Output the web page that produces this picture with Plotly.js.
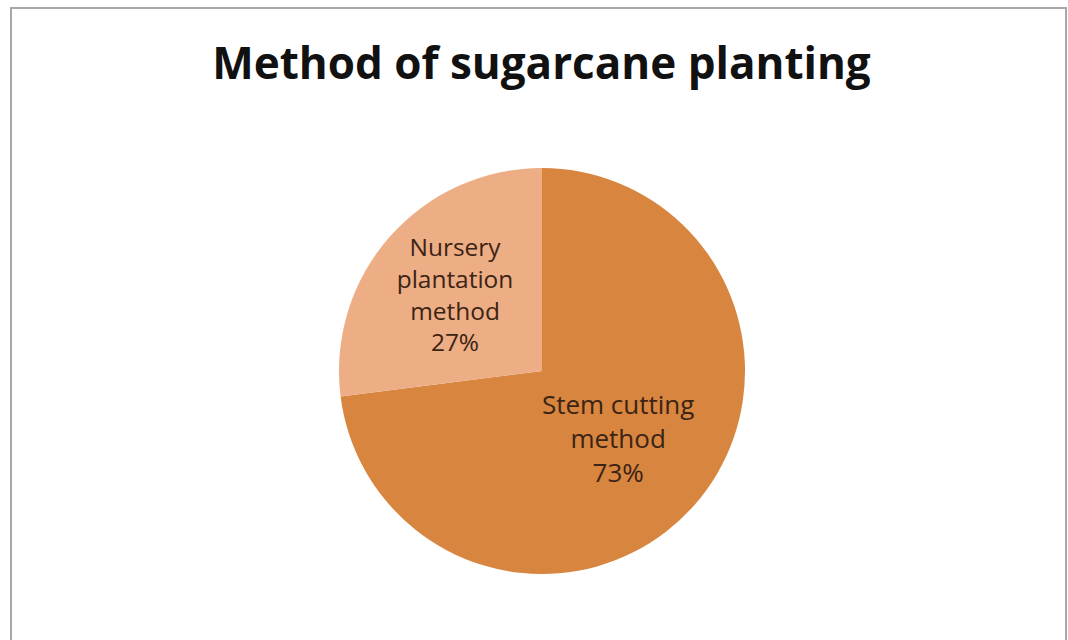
<!DOCTYPE html>
<html>
<head>
<meta charset="utf-8">
<script src="https://cdn.plot.ly/plotly-3.0.1.min.js"></script>
<style>
html,body{margin:0;padding:0;background:#fff;}
#chart{width:1068px;height:640px;}
</style>
</head>
<body>
<div id="chart"></div>
<script>
const categories = ["Stem cutting method", "Nursery plantation method"];
const labelTexts = ["Stem cutting<br>method", "Nursery<br>plantation<br>method"];
const values = [73, 27];
const colors = ["#D8853F", "#EDAD85"];

const W = 1068, H = 640;
const cx = 542, cy = 371, r = 203;

const trace = {
  type: "pie",
  labels: categories,
  values: values,
  text: labelTexts,
  sort: false,
  direction: "clockwise",
  rotation: 0,
  textinfo: "text+percent",
  texttemplate: "%{text}<br>%{percent:.0%}",
  textposition: "inside",
  insidetextorientation: "horizontal",
  hoverinfo: "label+percent",
  marker: { colors: colors, line: { width: 0 } },
  textfont: { family: "Open Sans, sans-serif", size: 26, color: "#3b2414" },
  domain: {
    x: [(cx - r) / W, (cx + r) / W],
    y: [1 - (cy + r) / H, 1 - (cy - r) / H]
  },
  showlegend: false
};

const layout = {
  width: W,
  height: H,
  margin: { l: 0, r: 0, t: 0, b: 0 },
  paper_bgcolor: "#ffffff",
  title: {
    text: "<b>Method of sugarcane planting</b>",
    font: { family: "Open Sans, sans-serif", size: 44, color: "#111111" },
    x: 0.507,
    xanchor: "center",
    y: 1 - 64 / H,
    yanchor: "middle"
  },
  shapes: [{
    type: "rect", xref: "paper", yref: "paper",
    x0: 11 / W, x1: 1066 / W, y0: -0.02, y1: 1 - 8 / H,
    line: { color: "#a8a8a8", width: 2 },
    fillcolor: "rgba(0,0,0,0)"
  }]
};

Plotly.newPlot("chart", [trace], layout, { displayModeBar: false, staticPlot: true });
</script>
</body>
</html>
